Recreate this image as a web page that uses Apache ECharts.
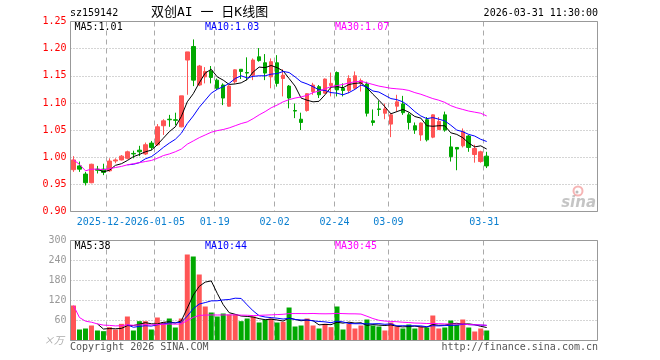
<!DOCTYPE html>
<html><head><meta charset="utf-8">
<script src="https://cdn.jsdelivr.net/npm/echarts@6/dist/echarts.min.js"></script>
<style>html,body{margin:0;padding:0;background:#fff}#c{width:660px;height:360px}</style>
</head><body><div id="c"></div>
<script>
// ---- data ----
const dates = ['2025-12-12','2025-12-15','2025-12-16','2025-12-17','2025-12-18','2025-12-19','2025-12-22','2025-12-23','2025-12-24','2025-12-25','2025-12-26','2025-12-29','2025-12-30','2025-12-31',
'2026-01-05','2026-01-06','2026-01-07','2026-01-08','2026-01-09','2026-01-12','2026-01-13','2026-01-14','2026-01-15','2026-01-16','2026-01-19','2026-01-20','2026-01-21','2026-01-22','2026-01-23','2026-01-26','2026-01-27','2026-01-28','2026-01-29','2026-01-30',
'2026-02-02','2026-02-03','2026-02-04','2026-02-05','2026-02-06','2026-02-09','2026-02-10','2026-02-11','2026-02-12','2026-02-13',
'2026-02-24','2026-02-25','2026-02-26','2026-02-27','2026-03-02','2026-03-03','2026-03-04','2026-03-05','2026-03-06',
'2026-03-09','2026-03-10','2026-03-11','2026-03-12','2026-03-13','2026-03-16','2026-03-17','2026-03-18','2026-03-19','2026-03-20','2026-03-23','2026-03-24','2026-03-25','2026-03-26','2026-03-27','2026-03-30','2026-03-31'];
const emptySlots = 18;

const opens = [0.977,0.984,0.969,0.953,0.978,0.978,0.975,0.993,0.995,0.998,1.007,1.013,1.006,1.026,1.023,1.058,1.070,1.069,1.056,1.179,1.204,1.133,1.148,1.159,1.142,1.133,1.094,1.139,1.162,1.156,1.151,1.185,1.174,1.148,1.174,1.145,1.131,1.086,1.070,1.086,1.121,1.130,1.118,1.132,1.156,1.127,1.123,1.127,1.136,1.135,1.067,1.089,1.081,1.061,1.094,1.098,1.078,1.058,1.041,1.069,1.037,1.051,1.078,1.019,1.018,1.021,1.039,1.005,0.992,1.002];
const closes = [0.995,0.978,0.953,0.987,0.976,0.972,0.993,0.995,1.002,1.010,1.006,1.010,1.023,1.018,1.056,1.067,1.069,1.068,1.113,1.194,1.142,1.168,1.158,1.147,1.127,1.109,1.131,1.161,1.158,1.155,1.179,1.178,1.155,1.176,1.136,1.151,1.109,1.085,1.064,1.117,1.133,1.115,1.144,1.136,1.124,1.123,1.145,1.150,1.141,1.081,1.064,1.088,1.089,1.078,1.102,1.082,1.064,1.050,1.063,1.032,1.078,1.066,1.050,1.001,1.015,1.047,1.018,1.016,1.010,0.984];
const lows = [0.973,0.973,0.948,0.952,0.970,0.967,0.973,0.989,0.994,0.996,0.998,1.002,1.004,1.013,1.021,1.041,1.056,1.059,1.055,1.115,1.131,1.131,1.136,1.136,1.124,1.096,1.093,1.136,1.144,1.142,1.142,1.176,1.142,1.127,1.130,1.112,1.090,1.072,1.050,1.084,1.115,1.109,1.117,1.112,1.112,1.112,1.118,1.125,1.121,1.075,1.058,1.076,1.070,1.037,1.084,1.078,1.051,1.043,1.030,1.029,1.035,1.050,1.047,0.992,0.976,1.018,1.010,0.990,0.990,0.980];
const highs = [1.002,0.992,0.973,0.988,0.984,0.988,0.998,0.998,1.004,1.012,1.012,1.021,1.027,1.030,1.061,1.070,1.078,1.082,1.113,1.194,1.217,1.170,1.166,1.168,1.145,1.136,1.133,1.162,1.162,1.184,1.182,1.201,1.190,1.182,1.188,1.162,1.133,1.099,1.082,1.118,1.137,1.133,1.145,1.156,1.158,1.136,1.151,1.158,1.145,1.139,1.088,1.104,1.099,1.081,1.115,1.113,1.082,1.064,1.064,1.074,1.079,1.074,1.084,1.039,1.018,1.053,1.041,1.023,1.012,1.010];

const ma5 = [null,null,null,null,0.978,0.973,0.976,0.985,0.988,0.994,1.001,1.005,1.010,1.013,1.023,1.035,1.047,1.056,1.075,1.102,1.117,1.137,1.155,1.162,1.148,1.142,1.134,1.135,1.137,1.143,1.157,1.166,1.165,1.169,1.165,1.159,1.145,1.131,1.109,1.105,1.102,1.103,1.115,1.129,1.130,1.128,1.134,1.136,1.137,1.128,1.116,1.105,1.093,1.080,1.084,1.088,1.083,1.075,1.072,1.058,1.057,1.058,1.058,1.045,1.042,1.036,1.026,1.019,1.021,1.015];
const ma10 = [null,null,null,null,null,null,null,null,null,0.986,0.987,0.990,0.997,1.001,1.009,1.018,1.026,1.033,1.044,1.062,1.076,1.092,1.105,1.118,1.125,1.130,1.136,1.145,1.150,1.146,1.149,1.150,1.150,1.153,1.154,1.158,1.156,1.148,1.139,1.135,1.130,1.124,1.123,1.119,1.118,1.115,1.119,1.125,1.133,1.129,1.122,1.120,1.114,1.108,1.106,1.102,1.094,1.084,1.076,1.071,1.073,1.070,1.067,1.059,1.050,1.047,1.042,1.039,1.033,1.029];
const ma30 = [0.995,0.987,0.975,0.978,0.978,0.977,0.979,0.981,0.983,0.986,0.988,0.990,0.992,0.994,0.998,1.003,1.006,1.010,1.015,1.024,1.030,1.036,1.041,1.046,1.049,1.051,1.054,1.058,1.062,1.065,1.071,1.078,1.084,1.091,1.096,1.102,1.106,1.109,1.111,1.114,1.119,1.122,1.126,1.130,1.132,1.134,1.137,1.139,1.140,1.137,1.134,1.131,1.129,1.127,1.126,1.125,1.123,1.119,1.116,1.112,1.108,1.105,1.101,1.095,1.091,1.088,1.085,1.083,1.081,1.076];

const volumes = [105,33,36,45,30,28,40,33,50,72,30,58,58,33,69,55,66,39,66,258,252,198,102,84,72,81,78,78,58,66,72,54,62,66,54,56,99,42,45,66,45,36,50,40,102,33,50,36,45,63,45,42,30,54,42,36,48,36,42,39,75,36,39,60,48,63,39,27,36,30];
const volMa5 = [null,null,null,null,49.8,34.4,35.8,35.2,36.2,44.6,45,48.6,53.6,50.2,49.6,54.6,56.2,52.4,59,96.8,136.2,162.6,175.2,178.8,141.6,107.4,83.4,78.6,73.4,72.2,70.4,65.6,62.4,64,61.6,58.4,67.4,63.4,59.2,61.6,59.4,46.8,48.4,47.4,54.6,52.2,55,52.2,53.2,45.4,47.8,46.2,45,46.8,42.6,40.8,42,43.2,40.8,40.2,48,45.6,46.2,49.8,51.6,49.2,49.8,47.4,42.6,39];
const volMa10 = [null,null,null,null,null,null,null,null,null,47.2,39.7,42.2,44.4,43.2,47.1,49.8,52.4,53,54.6,73.2,95.4,109.4,113.8,118.9,119.2,121.8,123,126.9,126.1,106.9,88.9,74.5,70.5,68.7,66.9,64.4,66.5,62.9,61.6,61.6,58.9,57.1,55.9,53.3,58.1,55.8,50.9,50.3,50.3,50,50,50.6,48.6,50,44,44.3,44.1,44.1,43.8,41.4,44.4,43.8,44.7,45.3,45.9,48.6,47.7,46.8,46.2,45.3];
const volMa30 = [105,69,58,54.8,49.8,46.2,45.3,43.8,44.4,47.2,45.6,46.7,47.5,46.5,48,48.4,49.5,48.9,49.8,60.2,69.3,75.2,76.3,76.7,76.5,76.7,76.7,76.8,76.1,75.8,74.7,75.4,76.2,76.9,77.7,78.7,80.6,80.9,80.8,80.6,81.1,80.3,80.1,80.3,81.4,80.7,80.1,80,79.3,72.8,65.9,60.7,58.3,57.3,56.3,54.8,53.8,52.4,51.9,51,51.1,50.5,49.7,49.5,49.3,49.6,47.6,47.1,46.8,45.6];

const labelIdx = [6,14,24,34,44,53,69];
const labelText = ['2025-12-22','2026-01-05','01-19','02-02','02-24','03-09','03-31'];
const priceTicks = {min:0.90, max:1.25, step:0.05};
const volTicks = {min:0, max:300, step:60};
const legendPrice = ['MA5:1.01','MA10:1.03','MA30:1.07'];
const legendVol = ['MA5:38','MA10:44','MA30:45'];

// ---- styling ----
const MONO = "'DejaVu Sans Mono', monospace";
const RED = '#ff5555', GREEN = '#00a800';
const cats = dates.concat(Array.from({length: emptySlots}, (_, k) => '#' + k));
const isLabel = (i) => labelIdx.indexOf(i) >= 0;
const G = {left: 70.5, width: 527};
const firstLbl = labelIdx[0];
const xLabelStyle = {color:'#0a7fd0', fontSize:10, fontFamily:MONO, margin:6, backgroundColor:'#fff', padding:[0,5,0,0], hideOverlap:false};

const chart = echarts.init(document.getElementById('c'), null, {renderer: 'canvas'});
const lineS = (data, color, xi, yi) => ({type:'line', xAxisIndex:xi, yAxisIndex:yi, data, symbol:'none', showSymbol:false,
  lineStyle:{color, width:1}, itemStyle:{color}, connectNulls:false, silent:true, z:5});
const txt = (text, x, y, fill) => ({type:'text', x, y, silent:true, z:50,
  style:{text, fill, font:'10px ' + MONO, align:'left', textAlign:'left', verticalAlign:'middle', textVerticalAlign:'middle'}});

const option = {
  animation:false,
  backgroundColor:'#fff',
  textStyle:{fontFamily:MONO},
  grid:[
    {left:G.left, top:21.5, width:G.width, height:190},
    {left:G.left, top:240.5, width:G.width, height:100}
  ],
  xAxis:[
    {type:'category', gridIndex:0, data:cats, boundaryGap:true, z:3,
     axisLine:{show:false}, axisTick:{show:false},
     axisLabel:Object.assign({show:true, interval:(i)=>isLabel(i) && i !== firstLbl,
       formatter:(v,i)=>labelText[labelIdx.indexOf(i)] || ''}, xLabelStyle),
     splitLine:{show:true, interval:(i)=>isLabel(i), lineStyle:{color:'#aaa', width:1, type:[5,4]}}},
    {type:'category', gridIndex:1, data:cats, boundaryGap:true,
     axisLine:{show:false}, axisTick:{show:false}, axisLabel:{show:false},
     splitLine:{show:true, interval:(i)=>isLabel(i), lineStyle:{color:'#aaa', width:1, type:[5,4]}}},
    {type:'category', gridIndex:0, data:cats, boundaryGap:true, z:1, position:'bottom',
     axisLine:{show:false}, axisTick:{show:false}, splitLine:{show:false},
     axisLabel:Object.assign({show:true, interval:(i)=>i === firstLbl,
       formatter:(v,i)=> i === firstLbl ? labelText[0] : ''}, xLabelStyle)}
  ],
  yAxis:[
    {type:'value', gridIndex:0, min:priceTicks.min, max:priceTicks.max, interval:priceTicks.step,
     axisLine:{show:false}, axisTick:{show:false},
     axisLabel:{color:'#ff0000', fontSize:10, fontFamily:MONO, margin:4, formatter:(v)=>v.toFixed(2)},
     splitLine:{show:true, lineStyle:{color:'#aaa', width:1, type:[1,2]}}},
    {type:'value', gridIndex:1, min:volTicks.min, max:volTicks.max, interval:volTicks.step,
     axisLine:{show:false}, axisTick:{show:false},
     axisLabel:{color:'#999', fontSize:10, fontFamily:MONO, margin:4, formatter:(v)=> v === 0 ? '' : String(v)},
     splitLine:{show:true, lineStyle:{color:'#aaa', width:1, type:[1,2]}}}
  ],
  series:[
    {type:'candlestick', xAxisIndex:0, yAxisIndex:0, barWidth:4, silent:true,
     data: opens.map((o,i)=>[o, closes[i], lows[i], highs[i]]),
     itemStyle:{color:RED, color0:GREEN, borderColor:RED, borderColor0:GREEN, borderWidth:1}},
    lineS(ma5, '#000000', 0, 0),
    lineS(ma10, '#0000ff', 0, 0),
    lineS(ma30, '#ff00ff', 0, 0),
    {type:'bar', xAxisIndex:1, yAxisIndex:1, barWidth:5, silent:true, data:volumes,
     itemStyle:{color:(p)=> closes[p.dataIndex] > opens[p.dataIndex] ? RED : GREEN}},
    lineS(volMa5, '#000000', 1, 1),
    lineS(volMa10, '#0000ff', 1, 1),
    lineS(volMa30, '#ff00ff', 1, 1)
  ],
  graphic:[
    {type:'rect', silent:true, z:40, shape:{x:70.5, y:21.5, width:527, height:190}, style:{fill:null, stroke:'#999', lineWidth:1}},
    {type:'rect', silent:true, z:40, shape:{x:70.5, y:240.5, width:527, height:100}, style:{fill:null, stroke:'#999', lineWidth:1}},
    txt('sz159142', 70, 13, '#000'),
    {type:'text', x:151, y:13, silent:true, z:50, style:{text:'双创AI 一 日K线图', fill:'#000', font:"13px 'DejaVu Sans Mono','Noto Sans CJK SC'", align:'left', textAlign:'left', verticalAlign:'middle', textVerticalAlign:'middle'}},
    {type:'text', x:598, y:13, silent:true, z:50, style:{text:'2026-03-31 11:30:00', fill:'#000', font:'10px ' + MONO, align:'right', textAlign:'right', verticalAlign:'middle', textVerticalAlign:'middle'}},
    txt(legendPrice[0], 74.5, 27, '#000000'),
    txt(legendPrice[1], 205, 27, '#0000ff'),
    txt(legendPrice[2], 335, 27, '#ff00ff'),
    txt(legendVol[0], 74.5, 246.5, '#000000'),
    txt(legendVol[1], 205, 246.5, '#0000ff'),
    txt(legendVol[2], 335, 246.5, '#ff00ff'),
    {type:'text', x:64, y:340.5, silent:true, z:50, style:{text:'×万', fill:'#aaa', font:"italic 10px 'Noto Sans CJK SC'", align:'right', textAlign:'right', verticalAlign:'middle', textVerticalAlign:'middle'}},
    txt('Copyright 2026 SINA.COM', 70, 347, '#555'),
    {type:'text', x:598, y:347, silent:true, z:50, style:{text:'http://finance.sina.com.cn', fill:'#555', font:'10px ' + MONO, align:'right', textAlign:'right', verticalAlign:'middle', textVerticalAlign:'middle'}},
    {type:'circle', silent:true, z:30, shape:{cx:578, cy:191, r:4.5}, style:{fill:null, stroke:'rgba(235,90,90,0.45)', lineWidth:2}},
    {type:'circle', silent:true, z:30, shape:{cx:577, cy:192, r:1.5}, style:{fill:'rgba(120,120,120,0.5)'}},
    {type:'text', x:596, y:203, silent:true, z:30, style:{text:'sina', fill:'rgba(150,150,150,0.55)', font:"italic bold 15px 'DejaVu Sans'", align:'right', textAlign:'right', verticalAlign:'middle', textVerticalAlign:'middle'}}
  ]
};
chart.setOption(option);
</script>
</body></html>
